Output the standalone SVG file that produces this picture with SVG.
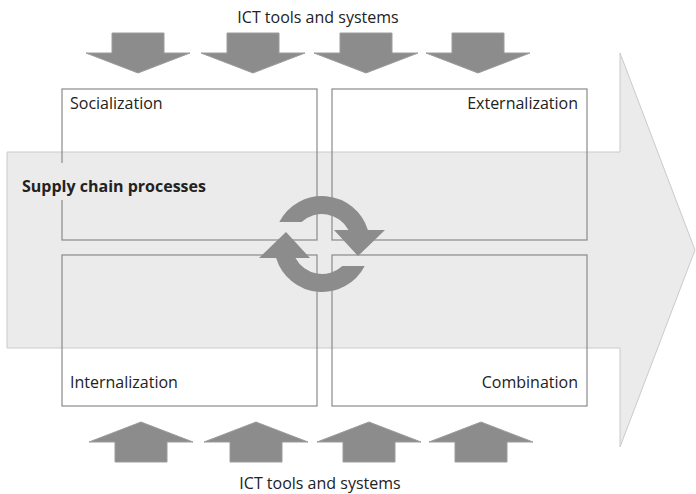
<svg xmlns="http://www.w3.org/2000/svg" width="696" height="494" viewBox="0 0 696 494">
<style>
.lbl{font-family:"Open Sans","Liberation Sans",Arial,sans-serif;font-size:16px;fill:#222}
.box{fill:none;stroke:#8a8a8a;stroke-width:1.2}
.ict{fill:#8c8c8c;stroke:#9c9c9c;stroke-width:1}
.cyc{fill:#8c8c8c}
</style>
<defs>
<path id="down" d="M-26,-40 L26,-40 L26,-20 L52,-20 L0,0 L-52,-20 L-26,-20 Z"/>
<path id="up" d="M-26,40 L26,40 L26,20 L52,20 L0,0 L-52,20 L-26,20 Z"/>
</defs>
<g id="supply-chain-arrow">
<path d="M7,152 L620,152 L620,53 L695,250 L620,447 L620,348 L7,348 Z" fill="#ebebeb" stroke="#cacaca" stroke-width="1"/>
</g>
<g id="socialization">
<rect class="box" x="62" y="89" width="255" height="151"/>
<text class="lbl" x="70" y="109">Socialization</text>
</g>
<g id="externalization">
<rect class="box" x="332" y="89" width="255" height="151"/>
<text class="lbl" x="578" y="109" text-anchor="end">Externalization</text>
</g>
<g id="internalization">
<rect class="box" x="62" y="255" width="255" height="151"/>
<text class="lbl" x="70" y="388">Internalization</text>
</g>
<g id="combination">
<rect class="box" x="332" y="255" width="255" height="151"/>
<text class="lbl" x="578" y="388" text-anchor="end">Combination</text>
</g>
<g id="supply-chain-label">
<rect x="18" y="163" width="192" height="37" fill="#ebebeb"/>
<text class="lbl" x="22" y="192" font-weight="bold" font-size="15.3">Supply chain processes</text>
</g>
<g id="ict-top">
<text class="lbl" x="318" y="23" text-anchor="middle">ICT tools and systems</text>
<use href="#down" class="ict" x="138" y="73"/>
<use href="#down" class="ict" x="253" y="73"/>
<use href="#down" class="ict" x="366" y="73"/>
<use href="#down" class="ict" x="478" y="73"/>
</g>
<g id="ict-bottom">
<use href="#up" class="ict" x="141" y="422"/>
<use href="#up" class="ict" x="256" y="422"/>
<use href="#up" class="ict" x="369" y="422"/>
<use href="#up" class="ict" x="481" y="422"/>
<text class="lbl" x="320" y="489" text-anchor="middle">ICT tools and systems</text>
</g>
<g id="cycle">
<path class="cyc" d="M279.3,222 A48,48 0 0 1 367.9,230 L385,230 L358,256 L334,230 L348.5,230 A30,30 0 0 0 301.6,222 Z"/>
<path class="cyc" transform="rotate(180 322 244)" d="M279.3,222 A48,48 0 0 1 367.9,230 L385,230 L358,256 L334,230 L348.5,230 A30,30 0 0 0 301.6,222 Z"/>
</g>
</svg>
